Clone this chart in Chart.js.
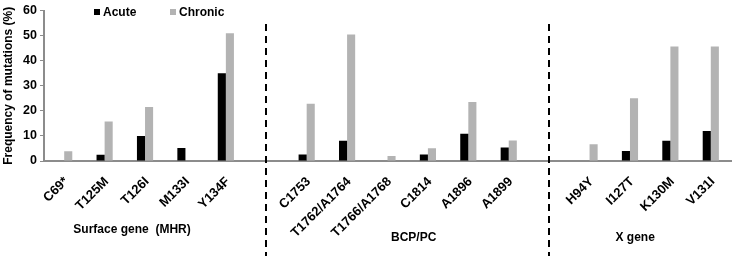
<!DOCTYPE html>
<html>
<head>
<meta charset="utf-8">
<script src="https://cdn.jsdelivr.net/npm/chart.js@4/dist/chart.umd.min.js"></script>
<style>
  html, body { margin: 0; padding: 0; background: #fff; }
  #wrap { width: 733px; height: 256px; position: relative; }
</style>
</head>
<body>
<div id="wrap"><canvas id="c"></canvas></div>
<script>
// ---- Data ----
const groupNames = ['Surface gene  (MHR)', 'BCP/PC', 'X gene'];
const surfaceCats = ['C69*', 'T125M', 'T126I', 'M133I', 'Y134F'];
const bcpCats = ['C1753', 'T1762/A1764', 'T1766/A1768', 'C1814', 'A1896', 'A1899'];
const xGeneCats = ['H94Y', 'I127T', 'K130M', 'V131I'];
const seriesNames = ['Acute', 'Chronic'];
const acute = [null, 2.5, 10, 5.2, 35, 2.6, 8.1, null, 2.6, 10.9, 5.4, null, 4.0, 8.1, 12.0];
const chronic = [3.9, 15.7, 21.5, null, 50.9, 22.8, 50.4, 2.0, 5.1, 23.5, 8.2, 6.7, 25.0, 45.6, 45.6];
const yTicks = [0, 10, 20, 30, 40, 50, 60];
const yTitle = 'Frequency of mutations (%)';

// ---- Build label list with spacer slots between groups ----
const groups = [surfaceCats, bcpCats, xGeneCats];
const labels = [];
const acuteData = [];
const chronicData = [];
const gapIdx = [];
const groupRanges = [];
let k = 0;
groups.forEach((g, gi) => {
  if (gi > 0) { gapIdx.push(labels.length); labels.push(''); acuteData.push(null); chronicData.push(null); }
  const start = labels.length;
  g.forEach(c => { labels.push(c); acuteData.push(acute[k]); chronicData.push(chronic[k]); k++; });
  groupRanges.push([start, labels.length - 1]);
});

const FONT = "'Liberation Sans', Arial, sans-serif";
const AXIS = '#8c8c8c';

const decor = {
  id: 'decor',
  afterDraw(chart) {
    const ctx = chart.ctx;
    const xs = chart.scales.x;
    ctx.save();
    // dashed separators
    ctx.strokeStyle = '#000';
    ctx.lineWidth = 2;
    ctx.setLineDash([7, 5]);
    gapIdx.forEach(i => {
      const x = Math.round(xs.getPixelForValue(i));
      ctx.beginPath();
      ctx.moveTo(x, 24);
      ctx.lineTo(x, 256);
      ctx.stroke();
    });
    ctx.setLineDash([]);
    // group labels
    ctx.fillStyle = '#000';
    ctx.font = 'bold 12px ' + FONT;
    ctx.textAlign = 'center';
    ctx.textBaseline = 'middle';
    const offX = [-13, 6, -15];
    const posY = [230, 238, 238];
    groupRanges.forEach((r, gi) => {
      const cx = (xs.getPixelForValue(r[0]) + xs.getPixelForValue(r[1])) / 2 + offX[gi];
      ctx.fillText(groupNames[gi], cx, posY[gi]);
    });
    // legend
    const lx = [94, 170];
    ctx.textAlign = 'left';
    chart.data.datasets.forEach((ds, i) => {
      ctx.fillStyle = ds.backgroundColor;
      ctx.fillRect(lx[i], 9, 6, 6);
      ctx.fillStyle = '#000';
      ctx.fillText(ds.label, lx[i] + 9, 12.5);
    });
    ctx.restore();
  }
};

new Chart(document.getElementById('c'), {
  type: 'bar',
  data: {
    labels: labels,
    datasets: [
      { label: seriesNames[0], data: acuteData, backgroundColor: '#000000' },
      { label: seriesNames[1], data: chronicData, backgroundColor: '#b3b3b3' }
    ]
  },
  options: {
    responsive: true,
    maintainAspectRatio: false,
    animation: false,
    events: [],
    layout: { padding: { top: 6, right: 2, left: 0, bottom: 0 } },
    datasets: { bar: { categoryPercentage: 0.4, barPercentage: 1.0 } },
    plugins: { legend: { display: false }, tooltip: { enabled: false } },
    scales: {
      x: {
        grid: { display: false },
        border: { display: true, color: AXIS, width: 2 },
        ticks: {
          autoSkip: false, maxRotation: 45, minRotation: 45, padding: 5, labelOffset: 2,
          color: '#000', font: { family: FONT, size: 13, weight: 'bold' }
        },
        afterFit(s) { s.height = 95; }
      },
      y: {
        min: 0, max: 60,
        afterBuildTicks(s) { s.ticks = yTicks.map(v => ({ value: v })); },
        grid: { display: true, drawOnChartArea: false, drawTicks: true, tickLength: 4, color: AXIS, lineWidth: 1 },
        border: { display: true, color: AXIS, width: 2 },
        ticks: { padding: 3, color: '#000', font: { family: FONT, size: 12.5, weight: 'bold' } },
        title: {
          display: true, text: yTitle, color: '#000',
          font: { family: FONT, size: 12, weight: 'bold' }, padding: { top: 1, bottom: 0 }
        },
        afterFit(s) { s.width = 44; }
      }
    }
  },
  plugins: [decor]
});
</script>
</body>
</html>
